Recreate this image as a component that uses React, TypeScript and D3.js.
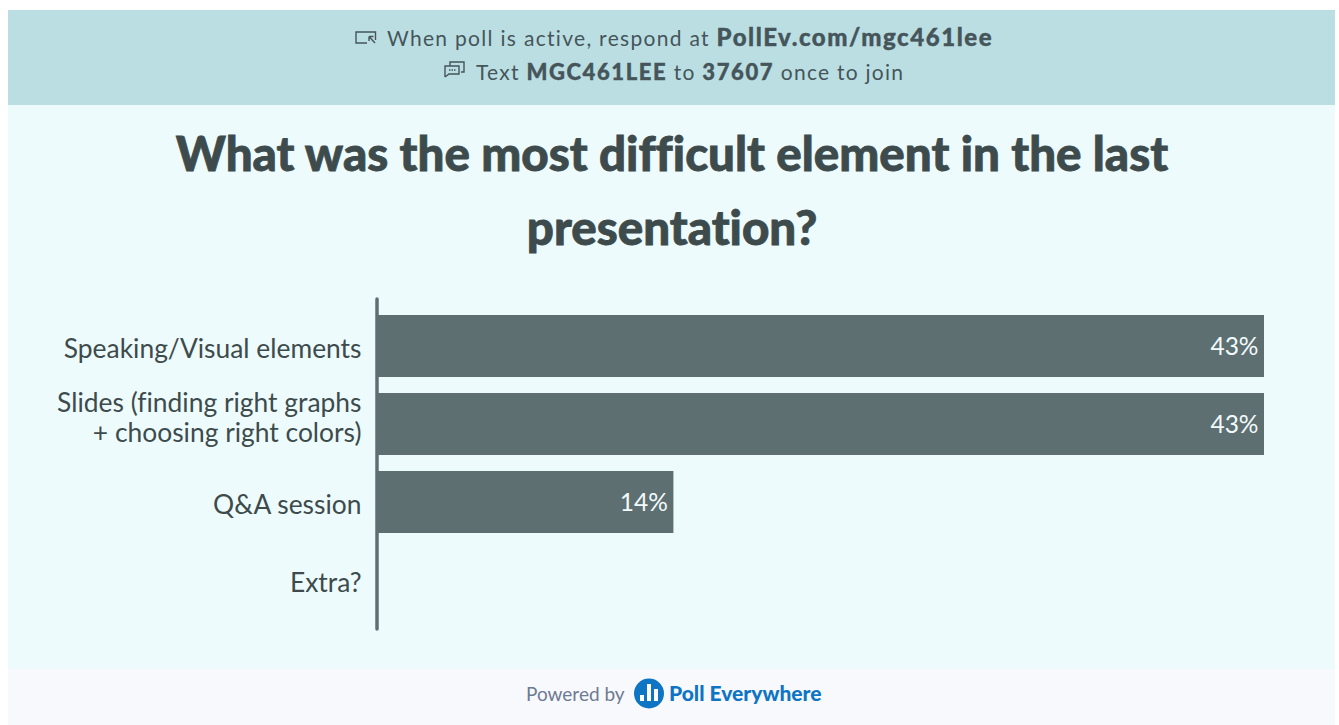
import React from "react";
import * as d3 from "d3";

const categories = ["Speaking/Visual elements", "Slides", "Q&A session", "Extra?"];
const categoryLines = [["Speaking/Visual elements"], ["Slides (finding right graphs", "+ choosing right colors)"], ["Q&A session"], ["Extra?"]];
const labelBaselines = [358, 412, 514, 592];
const values = [42.86, 42.86, 14.29, 0];
const valueLabels = ["43%", "43%", "14%", ""];
const titleLines = ["What was the most difficult element in the last", "presentation?"];

const FONT = "Lato, sans-serif";
const DARK = "#3d4b4c";
const BAR = "#5e6f72";

export default function App() {
  const x = d3.scaleLinear().domain([0, 42.86]).range([378, 1264]);
  const y = d3.scaleBand().domain(categories).range([307, 619]).paddingInner(16 / 78).paddingOuter(8 / 78);
  return (
    <svg width={1339} height={725} style={{ position: "absolute", left: 0, top: 0, display: "block", fontVariantLigatures: "none" }} fontFamily={FONT}>
      <rect x={0} y={0} width={1339} height={725} fill="#ffffff" />
      <rect x={8} y={10} width={1327} height={95} fill="#bbdee3" />
      <rect x={8} y={105} width={1327} height={564} fill="#edfbfd" />
      <rect x={8} y={669} width={1327} height={56} fill="#f8f9fc" />

      <g fill="none" stroke="#45555a" strokeWidth={1.4}>
        <path d="M375.5 40 V32 H356 V43 H367" />
        <path d="M369 36.5 L375 43 M369 36.5 h4.5 M369 36.5 v4.5" />
        <path d="M450 66 V62 H464 V72 H461" />
        <path d="M445 77 V66 H459 V74 H449 L445 77" />
        <path d="M449 70 h1.5 M451.5 70 h1.5 M454 70 h1.5" />
      </g>
      <text x={387} y={45.5} fontSize={21} fill="#45555a" letterSpacing={1.3}>
        When poll is active, respond at <tspan fontWeight={900} fontSize={24} letterSpacing={1.55} stroke="#45555a" strokeWidth={0.4}>PollEv.com/mgc461lee</tspan>
      </text>
      <text x={476} y={80} fontSize={21} fill="#45555a" letterSpacing={1.25}>
        Text <tspan fontWeight={900} fontSize={22} letterSpacing={1.6} stroke="#45555a" strokeWidth={0.4}>MGC461LEE</tspan> to <tspan fontWeight={900} fontSize={22} letterSpacing={1.6} stroke="#45555a" strokeWidth={0.4}>37607</tspan> once to join
      </text>

      {titleLines.map((t, i) => (
        <text key={t} x={672} y={171 + i * 74} textAnchor="middle" fontWeight={900} fontSize={47.5} fill={DARK} stroke={DARK} strokeWidth={0.8}>{t}</text>
      ))}

      {categories.map((c, i) => {
        const by = y(c)!;
        const h = y.bandwidth();
        const cy = by + h / 2;
        const lines = categoryLines[i];
        return (
          <g key={c}>
            <rect x={x(0)} y={by} width={x(values[i]) - x(0)} height={h} fill={BAR} />
            {lines.map((l, j) => (
              <text key={l} x={361.5} y={labelBaselines[i] + j * 30} textAnchor="end" fontSize={26.4} fill={DARK}>{l}</text>
            ))}
            {valueLabels[i] && (
              <text x={x(values[i]) - 5.5} y={cy + 9} textAnchor="end" fontSize={24.5} fill="#f2fbfc">{valueLabels[i]}</text>
            )}
          </g>
        );
      })}
      <line x1={x(0) - 1} x2={x(0) - 1} y1={299} y2={629} stroke={BAR} strokeWidth={3.5} strokeLinecap="round" />

      <text x={526} y={701} fontSize={19} fill="#6d7b93">Powered by</text>
      <circle cx={649} cy={693.5} r={15} fill="#0e75c4" />
      <rect x={640} y={695} width={4} height={6} fill="#fff" />
      <rect x={647} y={684} width={4} height={17} fill="#fff" />
      <rect x={654} y={689} width={4} height={12} fill="#fff" />
      <text x={669} y={701} fontSize={21} fontWeight={900} fill="#0e75c4">Poll Everywhere</text>
    </svg>
  );
}
